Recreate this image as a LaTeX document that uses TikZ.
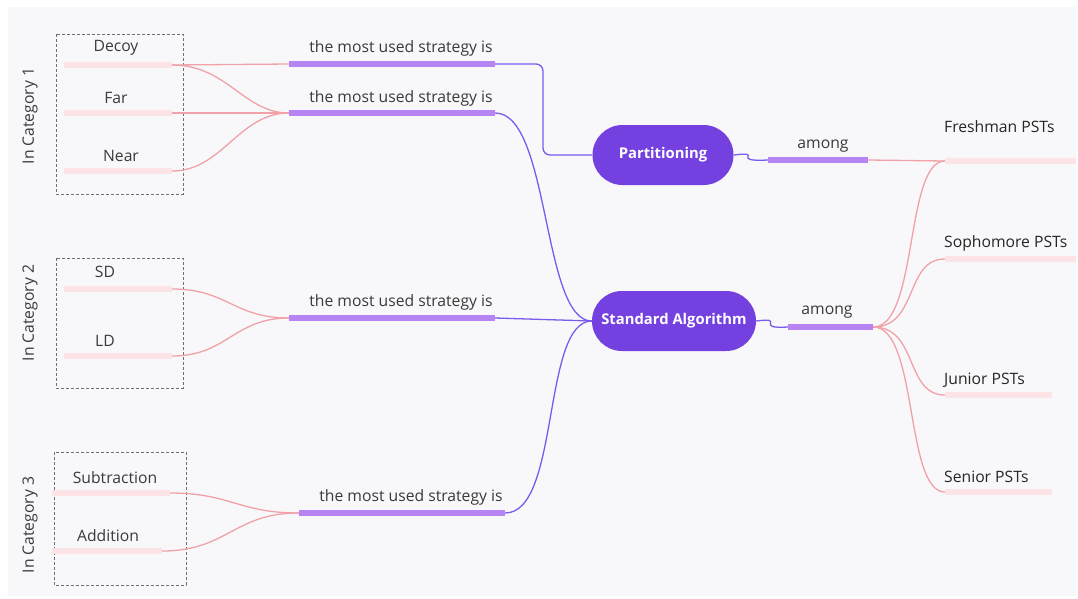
\documentclass[tikz,border=0pt]{standalone}
\usepackage{fontspec}
\setmainfont{Open Sans}
\usetikzlibrary{shapes.misc}
\definecolor{bgc}{HTML}{F8F8FB}
\definecolor{pinkbar}{HTML}{FCE3E6}
\definecolor{pinkline}{HTML}{F0A2A8}
\definecolor{purplebar}{HTML}{B685F3}
\definecolor{purpline}{HTML}{7B5BEE}
\definecolor{nodefill}{HTML}{7440E0}
\definecolor{textgray}{HTML}{3A3A3A}
\definecolor{boxgray}{HTML}{707070}
\tikzset{
  leafbar/.style={fill=pinkbar, minimum height=6pt, inner sep=0pt, draw=none},
  stratbar/.style={fill=purplebar, minimum height=6pt, inner sep=0pt, draw=none},
  lbl/.style={text=textgray, font=\fontsize{15.7}{18}\selectfont, inner sep=0pt},
  tlbl/.style={text=black!85, font=\fontsize{15.7}{18}\selectfont, inner sep=0pt, anchor=west},
  catlbl/.style={text=textgray, font=\fontsize{15.7}{18}\selectfont, inner sep=0pt, rotate=90},
  pinkc/.style={draw=pinkline, line width=1.3pt},
  purpc/.style={draw=purpline, line width=1.3pt},
  pill/.style={rounded rectangle, fill=nodefill, draw=none, text=white, font=\bfseries\fontsize{14.8}{17}\selectfont, minimum height=60pt, inner sep=0pt},
  catbox/.style={draw=boxgray, dash pattern=on 3pt off 2pt, line width=1pt},
}
\begin{document}
\begin{tikzpicture}[x=1pt,y=-1pt]
\useasboundingbox (0,0) rectangle (1078,598);
\fill[white] (0,0) rectangle (1078,598);
\fill[bgc] (8,7) rectangle (1076,596);

% category boxes
\draw[catbox] (56,34) rectangle (183,194);
\draw[catbox] (56,258) rectangle (183,388);
\draw[catbox] (54,452) rectangle (186,585);
\node[catlbl] (c1) at (30,116) {In Category 1};
\node[catlbl] (c2) at (30,313) {In Category 2};
\node[catlbl] (c3) at (30,525) {In Category 3};

% leaf bars
\node[leafbar, minimum width=108pt] (decoy) at (118,65) {};
\node[leafbar, minimum width=108pt] (far) at (118,113) {};
\node[leafbar, minimum width=108pt] (near) at (118,171) {};
\node[leafbar, minimum width=108pt] (sd) at (118,289) {};
\node[leafbar, minimum width=108pt] (ld) at (118,356) {};
\node[leafbar, minimum width=118pt] (sub) at (111,493) {};
\node[leafbar, minimum width=110pt] (add) at (107,551) {};
\node[lbl] (tdecoy) at (116,48) {Decoy};
\node[lbl] (tfar) at (116,98) {Far};
\node[lbl] (tnear) at (121,156) {Near};
\node[lbl] (tsd) at (105,272) {SD};
\node[lbl] (tld) at (105,341) {LD};
\node[lbl] (tsub) at (115,478) {Subtraction};
\node[lbl] (tadd) at (108,536) {Addition};

% strategy bars
\node[stratbar, minimum width=206pt] (s1) at (392,64) {};
\node[stratbar, minimum width=206pt] (s2) at (392,113) {};
\node[stratbar, minimum width=206pt] (s3) at (392,318) {};
\node[stratbar, minimum width=206pt] (s4) at (402,513) {};
\node[lbl] (ts1) at (401,48) {the most used strategy is};
\node[lbl] (ts2) at (401,98) {the most used strategy is};
\node[lbl] (ts3) at (401,302) {the most used strategy is};
\node[lbl] (ts4) at (411,497) {the most used strategy is};

% central nodes
\node[pill, minimum width=141pt] (part) at (663,155) {Partitioning};
\node[pill, minimum width=164pt] (std) at (674,321) {Standard Algorithm};

% among bars
\node[stratbar, minimum width=100pt] (a1) at (818,160) {};
\node[stratbar, minimum width=85pt] (a2) at (830.5,327) {};
\node[lbl] (ta1) at (823,146) {among};
\node[lbl] (ta2) at (827,312) {among};

% target bars
\node[leafbar, minimum width=131pt] (fr) at (1010.5,161) {};
\node[leafbar, minimum width=131pt] (so) at (1010.5,259) {};
\node[leafbar, minimum width=107pt] (ju) at (998.5,395) {};
\node[leafbar, minimum width=107pt] (se) at (998.5,492) {};
\node[tlbl] (tfr) at (944,127) {Freshman PSTs};
\node[tlbl] (tso) at (944,243) {Sophomore PSTs};
\node[tlbl] (tju) at (944,380) {Junior PSTs};
\node[tlbl] (tse) at (944,477) {Senior PSTs};

% pink connectors (leaves -> strategy)
\draw[pinkc] (decoy.east) -- (s1.west);
\draw[pinkc] (decoy.east) .. controls +(55,0) and +(-45,0) .. (s2.west);
\draw[pinkc] (far.east) -- (s2.west);
\draw[pinkc] (near.east) .. controls +(50,0) and +(-50,0) .. (s2.west);
\draw[pinkc] (sd.east) .. controls +(55,0) and +(-55,0) .. (s3.west);
\draw[pinkc] (ld.east) .. controls +(55,0) and +(-55,0) .. (s3.west);
\draw[pinkc] (sub.east) .. controls +(60,0) and +(-60,0) .. (s4.west);
\draw[pinkc] (add.east) .. controls +(65,0) and +(-65,0) .. (s4.west);

% purple connectors (strategy -> central)
\draw[purpc, rounded corners=7pt] (s1.east) -- (543,64) -- (543,155) -- (part.west);
\draw[purpc] (s2.east) .. controls +(55,0) and +(-50,0) .. (std.west);
\draw[purpc] (s3.east) -- (std.west);
\draw[purpc] (s4.east) .. controls +(55,0) and +(-50,0) .. (std.west);

% squiggles (central -> among)
\draw[purpc] (part.east) .. controls (766,151) and (728,162) .. (a1.west);
\draw[purpc] (std.east) .. controls (788,317) and (752,329) .. (a2.west);

% pink connectors (among -> targets)
\draw[pinkc] (a1.east) -- (fr.west);
\draw[pinkc] (a2.east) .. controls +(45,0) and +(-40,0) .. (fr.west);
\draw[pinkc] (a2.east) .. controls +(45,0) and +(-40,0) .. (so.west);
\draw[pinkc] (a2.east) .. controls +(45,0) and +(-40,0) .. (ju.west);
\draw[pinkc] (a2.east) .. controls +(45,0) and +(-40,0) .. (se.west);
\end{tikzpicture}
\end{document}
